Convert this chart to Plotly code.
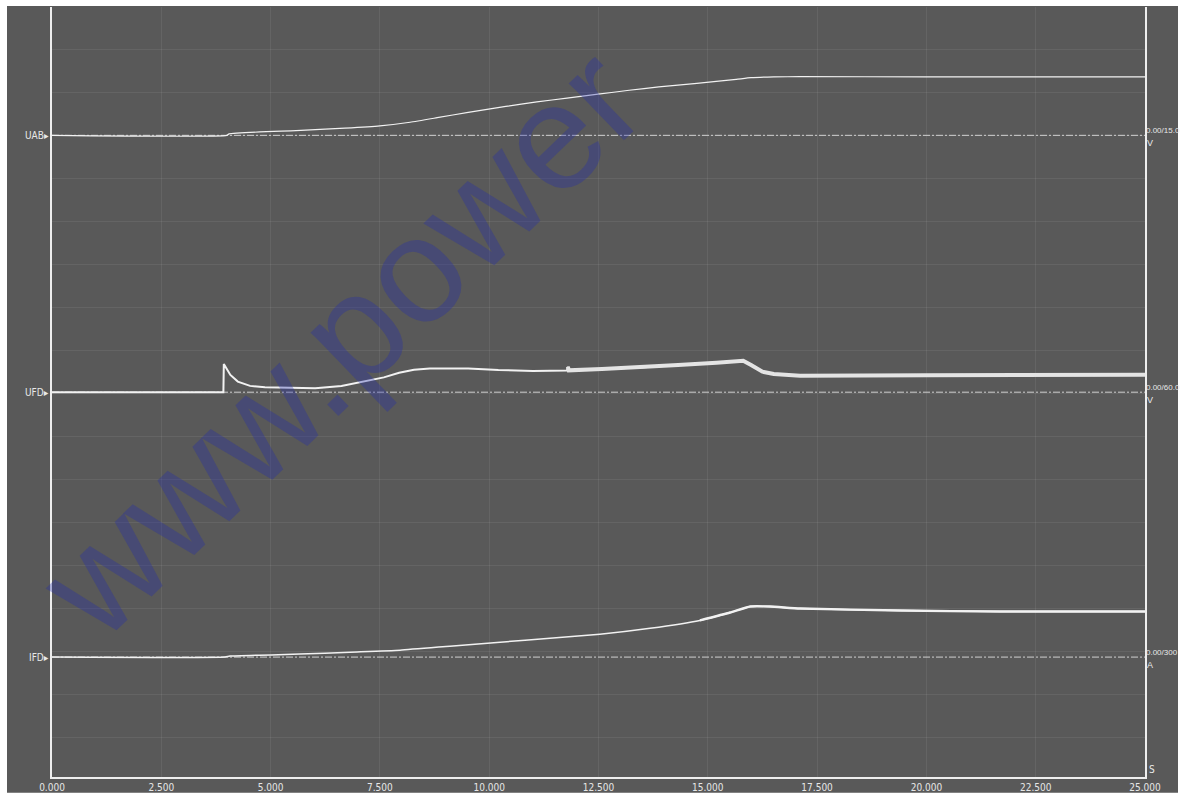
import plotly.graph_objects as go

# ---------------- data (read from the recording) ----------------
x_ticks = [0, 2.5, 5, 7.5, 10, 12.5, 15, 17.5, 20, 22.5, 25]

channels = ["UAB", "UFD", "IFD"]
scale_text = ["0.00/15.0", "0.00/60.0", "0.00/300"]
unit_text = ["V", "V", "A"]
per_div = [15.0, 60.0, 300.0]

uab_t = [0, 4.0, 4.05, 5.58, 6.70, 7.50, 8.19, 8.81, 9.52, 10.38, 11.09, 11.78,
         12.49, 13.20, 13.88, 14.75, 15.65, 15.99, 16.51, 17.10, 20.0, 25.0]
uab_v = [0, 0, 0.52, 1.66, 2.49, 3.28, 4.56, 6.15, 8.02, 10.09, 11.68, 12.96,
         14.34, 15.72, 16.87, 18.14, 19.53, 20.11, 20.39, 20.46, 20.40, 20.40]

ufd_t = [0, 3.92, 3.93, 4.08, 4.25, 4.53, 4.87, 5.58, 6.02, 6.62, 7.15, 7.59,
         7.94, 8.28, 8.64, 9.52, 10.21, 11.00, 11.78, 11.80, 11.82, 12.58, 13.45,
         14.32, 15.20, 15.81, 15.99, 16.25, 16.51, 17.11, 20.0, 25.0]
ufd_v = [0, 0, 39.3, 24.1, 14.8, 8.8, 6.9, 5.5, 5.5, 8.8, 14.8, 20.7,
         27.2, 31.4, 33.2, 33.2, 31.0, 29.6, 30.4, 35.5, 30.5, 32.4, 34.6,
         37.9, 41.1, 43.8, 37.9, 28.6, 25.4, 23.1, 23.8, 24.2]

ifd_t = [0, 3.96, 4.07, 5.67, 6.82, 7.96, 9.10, 10.25, 11.39, 12.53, 13.68,
         14.82, 15.51, 15.97, 16.42, 17.11, 19.40, 21.68, 25.0]
ifd_a = [0, 0, 6.9, 20.7, 34.6, 48.4, 76.0, 103.7, 131.3, 159.0, 200.4,
         255.7, 311.0, 352.5, 352.5, 338.7, 324.9, 318.0, 318.0]

# ---------------- layout geometry ----------------
W, H = 1184, 800
L, R, T, B = 52, 39, 7, 16
plot_top, plot_bot = T, H - B
div_px = 43.4
baseline_px = [136.5, 395.7, 663.0]


def axis_range(base, per):
    s = per / div_px
    return [(base - plot_bot) * s, (base - plot_top) * s]


BG = "#595959"
GRID = "rgba(255,255,255,0.07)"
LINE = "#eeeeee"
TRACE = "#f2f2f2"
NARROW = "Liberation Sans Narrow, DejaVu Sans Condensed, sans-serif"
SIDE = "Liberation Sans Narrow, Liberation Sans, sans-serif"

fig = go.Figure()

axes = ["y", "y2", "y3"]
# zero (reference) lines
for ax in axes:
    fig.add_trace(go.Scatter(x=[x_ticks[0], x_ticks[-1]], y=[0, 0], yaxis=ax,
                             mode="lines", hoverinfo="skip", showlegend=False,
                             line=dict(color="#d0d0d0", width=1,
                                       dash="7px,2px,2px,2px")))

fig.add_trace(go.Scatter(x=uab_t, y=uab_v, yaxis="y", mode="lines", name="UAB",
                         line=dict(color=TRACE, width=1.2, shape="spline",
                                   smoothing=0.5), showlegend=False))

fig.add_trace(go.Scatter(x=ufd_t, y=ufd_v, yaxis="y2", mode="lines", name="UFD",
                         line=dict(color=TRACE, width=2), showlegend=False))
k = ufd_t.index(11.80)
fig.add_trace(go.Scatter(x=ufd_t[k:], y=ufd_v[k:], yaxis="y2", mode="lines",
                         hoverinfo="skip", line=dict(color="#e4e4e4", width=4),
                         showlegend=False))

fig.add_trace(go.Scatter(x=ifd_t, y=ifd_a, yaxis="y3", mode="lines", name="IFD",
                         line=dict(color=TRACE, width=1.5, shape="spline",
                                   smoothing=0.5), showlegend=False))
j = ifd_t.index(14.82)
fig.add_trace(go.Scatter(x=ifd_t[j:], y=ifd_a[j:], yaxis="y3", mode="lines",
                         hoverinfo="skip", line=dict(color=TRACE, width=2.4,
                                                     shape="spline", smoothing=0.5),
                         showlegend=False))

annotations = []
for i, ax in enumerate(axes):
    annotations.append(dict(xref="paper", yref=ax, x=0, y=0, xanchor="right",
                            yanchor="middle", xshift=-1, showarrow=False,
                            text=channels[i] + "\u25B8",
                            font=dict(family=NARROW, size=10, color="#e8e8e8")))
    annotations.append(dict(xref="paper", yref=ax, x=1, y=0, xanchor="left",
                            yanchor="middle", xshift=-1, yshift=5, showarrow=False,
                            text=scale_text[i],
                            font=dict(family=SIDE, size=8, color="#e8e8e8")))
    annotations.append(dict(xref="paper", yref=ax, x=1, y=0, xanchor="left",
                            yanchor="middle", xshift=0, yshift=-8, showarrow=False,
                            text=unit_text[i],
                            font=dict(family=SIDE, size=9, color="#e8e8e8")))

annotations.append(dict(xref="paper", yref="paper", x=1, y=(plot_bot - 776) / (plot_bot - plot_top),
                        xanchor="left", yanchor="middle", xshift=2, showarrow=False,
                        text="S", font=dict(family=NARROW, size=10, color="#e8e8e8")))

# watermark
annotations.append(dict(xref="paper", yref="paper",
                        x=(340 - L) / (W - L - R), y=(plot_bot - 345) / (plot_bot - plot_top),
                        xanchor="center", yanchor="middle", showarrow=False,
                        text="www.power", textangle=-44,
                        font=dict(family="Liberation Sans, Arial, sans-serif", size=150,
                                  color="rgba(35,45,175,0.32)")))

pw = W - L - R
ph = plot_bot - plot_top
shapes = [dict(type="rect", xref="paper", yref="paper", layer="below",
               x0=(7 - L) / pw, x1=(1178 - L) / pw,
               y0=(plot_bot - H) / ph, y1=(plot_bot - 6) / ph,
               fillcolor=BG, line=dict(width=0))]

fig.update_layout(
    width=W, height=H,
    margin=dict(l=L, r=R, t=T, b=B, pad=0),
    paper_bgcolor="white", plot_bgcolor=BG,
    shapes=shapes, annotations=annotations,
    xaxis=dict(range=[x_ticks[0], x_ticks[-1]], tickvals=x_ticks, tickformat=".3f",
               showgrid=True, gridcolor=GRID, gridwidth=1, zeroline=False,
               showline=True, linecolor=LINE, linewidth=1.5, ticks="",
               tickfont=dict(family=NARROW, size=10, color="#e6e6e6")),
    yaxis=dict(range=axis_range(baseline_px[0], per_div[0]), dtick=per_div[0], tick0=0,
               showgrid=True, gridcolor=GRID, gridwidth=1, zeroline=False,
               showticklabels=False, ticks="", showline=True, mirror=True,
               linecolor=LINE, linewidth=1.5),
    yaxis2=dict(range=axis_range(baseline_px[1], per_div[1]), overlaying="y",
                visible=False),
    yaxis3=dict(range=axis_range(baseline_px[2], per_div[2]), overlaying="y",
                visible=False),
)

fig.write_html("out.html", config={"displayModeBar": False},
               post_script="document.body.style.margin='0';")
